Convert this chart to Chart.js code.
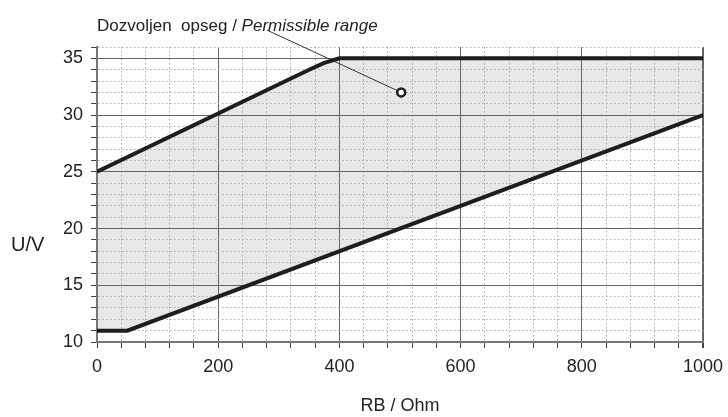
<!DOCTYPE html>
<html lang="en">
  <head>
    <meta charset="UTF-8" />
    <title>Dozvoljen opseg</title>
    <script src="https://cdn.jsdelivr.net/npm/chart.js@4.4.1/dist/chart.umd.min.js"></script>
    <style>
      body { margin: 0; background: #fff; }
      #wrap { width: 728px; height: 417px; }
    </style>
  </head>
  <body>
    <div id="wrap"><canvas id="myChart" width="728" height="417"></canvas></div>

    <script>
      // upper limit of the permissible range
      const rbUpper = [0, 350, 375, 400, 1000];
      const uUpper = [25, 34, 34.6, 35, 35];
      // lower limit
      const rbLower = [0, 50, 1000];
      const uLower = [11, 11, 30];
      // leader line from the label to the marker
      const rbLabel = [280, 502];
      const uLabel = [37.5, 32];

      const xMajor = [0, 200, 400, 600, 800, 1000];
      const yMajor = [10, 15, 20, 25, 30, 35];

      const font = 'Liberation Sans, Arial, sans-serif';
      const pts = (xs, ys) => xs.map((x, i) => ({ x: x, y: ys[i] }));

      const textPlugin = {
        id: 'texts',
        afterDraw(chart) {
          const c = chart.ctx;
          c.save();
          c.fillStyle = '#222';
          c.textBaseline = 'middle';
          c.font = '20px ' + font;
          c.fillText('U/V', 11, 245);
          c.textBaseline = 'alphabetic';
          c.font = '17px ' + font;
          const a = 'Dozvoljen  opseg / ';
          c.fillText(a, 97, 31);
          const w = c.measureText(a).width;
          c.font = 'italic 17px ' + font;
          c.fillText('Permissible range', 97 + w, 31);
          c.restore();
        }
      };

      const isMajorX = v => v % 200 === 0;
      const isMajorY = v => v % 5 === 0;

      const ctx = document.getElementById('myChart').getContext('2d');
      const myChart = new Chart(ctx, {
        type: 'scatter',
        data: {
          datasets: [
            {
              label: 'upper',
              data: pts(rbUpper, uUpper),
              showLine: true,
              borderColor: '#1e1e1e',
              borderWidth: 4,
              pointRadius: 0,
              fill: '+1',
              backgroundColor: '#e7e7e7'
            },
            {
              label: 'lower',
              data: pts(rbLower, uLower),
              showLine: true,
              borderColor: '#1e1e1e',
              borderWidth: 4,
              pointRadius: 0,
              fill: false
            },
            {
              label: 'leader',
              data: pts(rbLabel, uLabel),
              showLine: true,
              clip: false,
              borderColor: '#333',
              borderWidth: 1,
              pointRadius: [0, 4],
              pointBorderWidth: 2.5,
              pointBorderColor: '#1e1e1e',
              pointBackgroundColor: '#fff',
              fill: false
            }
          ]
        },
        options: {
          responsive: false,
          animation: false,
          layout: { padding: { left: 0, right: 25, top: 47, bottom: 0 } },
          plugins: {
            legend: { display: false },
            tooltip: { enabled: false },
            filler: { drawTime: 'beforeDraw' }
          },
          scales: {
            x: {
              type: 'linear',
              min: 0,
              max: 1000,
              afterFit: s => { s.height = 75; s.paddingLeft = 0; s.paddingRight = 0; },
              ticks: {
                stepSize: 40,
                autoSkip: false,
                maxRotation: 0,
                padding: 8,
                color: '#222',
                font: { family: font, size: 18 },
                callback: v => (xMajor.includes(v) ? v : '')
              },
              grid: {
                color: c => (c.tick && isMajorX(c.tick.value) ? '#666' : '#aaa'),
                lineWidth: c => (c.tick && c.tick.value === 1000 ? 2 : 1),
                tickColor: '#444',
                tickLength: 6,
                tickBorderDash: []
              },
              border: {
                color: '#777',
                width: 2,
                dash: c => (c.tick && !isMajorX(c.tick.value) ? [1.5, 2.5] : [])
              },
              title: {
                display: true,
                text: 'RB / Ohm',
                color: '#222',
                font: { family: font, size: 18 },
                padding: { top: 15, bottom: 0 }
              }
            },
            y: {
              type: 'linear',
              min: 10,
              max: 36,
              afterFit: s => { s.width = 97; },
              ticks: {
                stepSize: 1,
                autoSkip: false,
                padding: 8,
                color: '#222',
                font: { family: font, size: 18 },
                callback: v => (yMajor.includes(v) ? v : '')
              },
              grid: {
                color: c => (c.tick && isMajorY(c.tick.value) ? '#666' : '#aaa'),
                lineWidth: 1,
                tickColor: '#444',
                tickLength: 6,
                tickBorderDash: []
              },
              border: {
                color: '#777',
                width: 2,
                dash: c => (c.tick && !isMajorY(c.tick.value) ? [1.5, 2.5] : [])
              }
            }
          }
        },
        plugins: [textPlugin]
      });
    </script>
  </body>
</html>
